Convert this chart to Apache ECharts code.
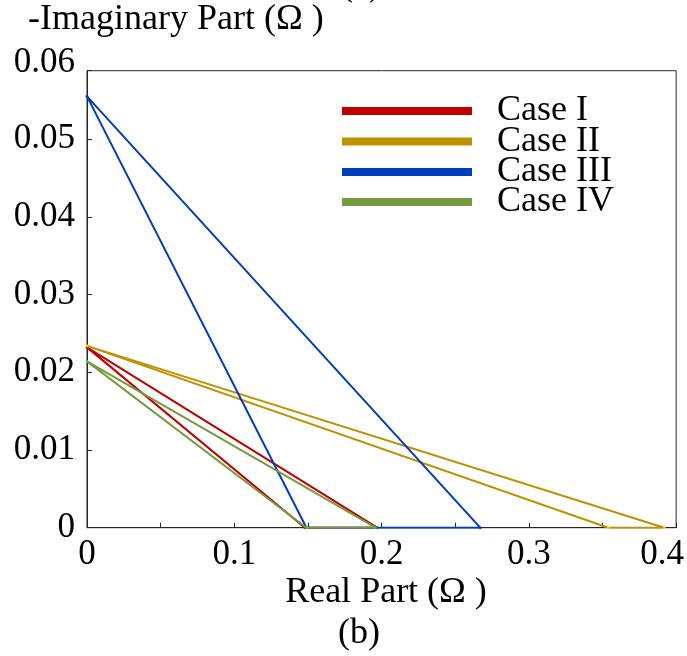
<!DOCTYPE html>
<html>
<head>
<meta charset="utf-8">
<script src="https://cdn.jsdelivr.net/npm/echarts@6/dist/echarts.min.js"></script>
<style>
html,body{margin:0;padding:0;background:#fff;}
#chart{width:687px;height:656px;}
</style>
</head>
<body>
<div id="chart"></div>
<script>
// Data
const seriesNames = ['Case I', 'Case II', 'Case III', 'Case IV'];
const caseI   = [[0, 0.0232], [0.148, 0], [0.197, 0], [0, 0.0232]];
const caseII  = [[0, 0.0234], [0.354, 0], [0.392, 0], [0, 0.0234]];
const caseIII = [[0, 0.0555], [0.149, 0], [0.267, 0], [0, 0.0555]];
const caseIV  = [[0, 0.0214], [0.149, 0], [0.196, 0], [0, 0.0214]];
const colors = ['#C00000', '#BF9000', '#003CBE', '#779A3F'];
const vertexColors = ['#E00000', '#FFE600', '#0022FF', '#22E622'];
const xTicks = [0, 0.1, 0.2, 0.3, 0.4];
const yTicks = [0, 0.01, 0.02, 0.03, 0.04, 0.05, 0.06];
const yFrameTop = 0.0588; // the plot box top sits slightly below the 0.06 label

const FONT = '"Liberation Serif", "Times New Roman", serif';
const AX = '#262626';
const chart = echarts.init(document.getElementById('chart'), null, {renderer: 'canvas'});
const data = [caseI, caseII, caseIII, caseIV];
const legendTops = [93, 123.5, 154, 184];

const lineSeries = data.map((d, i) => ({
  name: seriesNames[i], type: 'line', data: d, showSymbol: false, symbol: 'none',
  color: colors[i], lineStyle: {color: colors[i], width: 2}, z: 3 + 2 * i
}));
const dotSeries = data.map((d, i) => ({
  name: seriesNames[i] + ' vertices', type: 'scatter', data: d.slice(0, 3),
  symbol: 'circle', symbolSize: 3, itemStyle: {color: vertexColors[i]}, z: 4 + 2 * i, silent: true
}));

chart.setOption({
  animation: false,
  backgroundColor: '#fff',
  grid: {left: 87, right: 10, top: 70.7, bottom: 128.3, show: true, borderColor: AX, borderWidth: 1, backgroundColor: 'transparent'},
  xAxis: {
    type: 'value', min: xTicks[0], max: xTicks[xTicks.length - 1], interval: 0.05,
    axisLine: {lineStyle: {color: AX, width: 1}},
    axisTick: {inside: true, length: 5, lineStyle: {color: AX}},
    splitLine: {show: false},
    axisLabel: {
      margin: 10, color: '#000', fontFamily: FONT, fontSize: 35, showMaxLabel: true,
      formatter: v => {
        if (Math.round(v * 100) % 10 !== 0) return '';
        const s = String(+v.toFixed(1));
        return v >= xTicks[xTicks.length - 1] - 1e-9 ? '{r|' + s + '}' : s;
      },
      rich: {r: {fontFamily: FONT, fontSize: 35, color: '#000', padding: [0, 28, 0, 0]}}
    }
  },
  yAxis: {
    type: 'value', min: yTicks[0], max: yFrameTop, interval: 0.01,
    axisLine: {show: true, lineStyle: {color: AX, width: 1}},
    axisTick: {show: true, inside: true, length: 5, lineStyle: {color: AX}},
    splitLine: {show: false},
    axisLabel: {
      margin: 12, color: '#000', fontFamily: FONT, fontSize: 35, showMaxLabel: true,
      formatter: v => {
        if (v > yTicks[yTicks.length - 2] + 0.005) return '{t|' + yTicks[yTicks.length - 1] + '}';
        return String(+v.toFixed(2));
      },
      rich: {t: {fontFamily: FONT, fontSize: 35, color: '#000', padding: [0, 0, 16, 0]}}
    }
  },
  legend: seriesNames.map((n, i) => ({
    data: [n],
    orient: 'vertical', left: 342, top: legendTops[i], padding: 0,
    icon: 'rect', itemWidth: 130, itemHeight: 8,
    textStyle: {fontFamily: FONT, fontSize: 36, color: '#000', padding: [0, 0, 0, 20]}
  })),
  graphic: [
    {type: 'text', left: 28, top: 2, style: {text: '-Imaginary Part (Ω )', font: '36px ' + FONT, fill: '#000'}},
    {type: 'text', x: 386, y: 593, style: {text: 'Real Part (Ω )', font: '36px ' + FONT, fill: '#000', textAlign: 'center', textVerticalAlign: 'middle'}},
    {type: 'text', x: 359, y: 634, style: {text: '(b)', font: '36px ' + FONT, fill: '#000', textAlign: 'center', textVerticalAlign: 'middle'}},
    {type: 'text', x: 361, y: -14, style: {text: '(a)', font: '36px ' + FONT, fill: '#000', textAlign: 'center', textVerticalAlign: 'middle'}}
  ],
  series: lineSeries.concat(dotSeries)
});
</script>
</body>
</html>
